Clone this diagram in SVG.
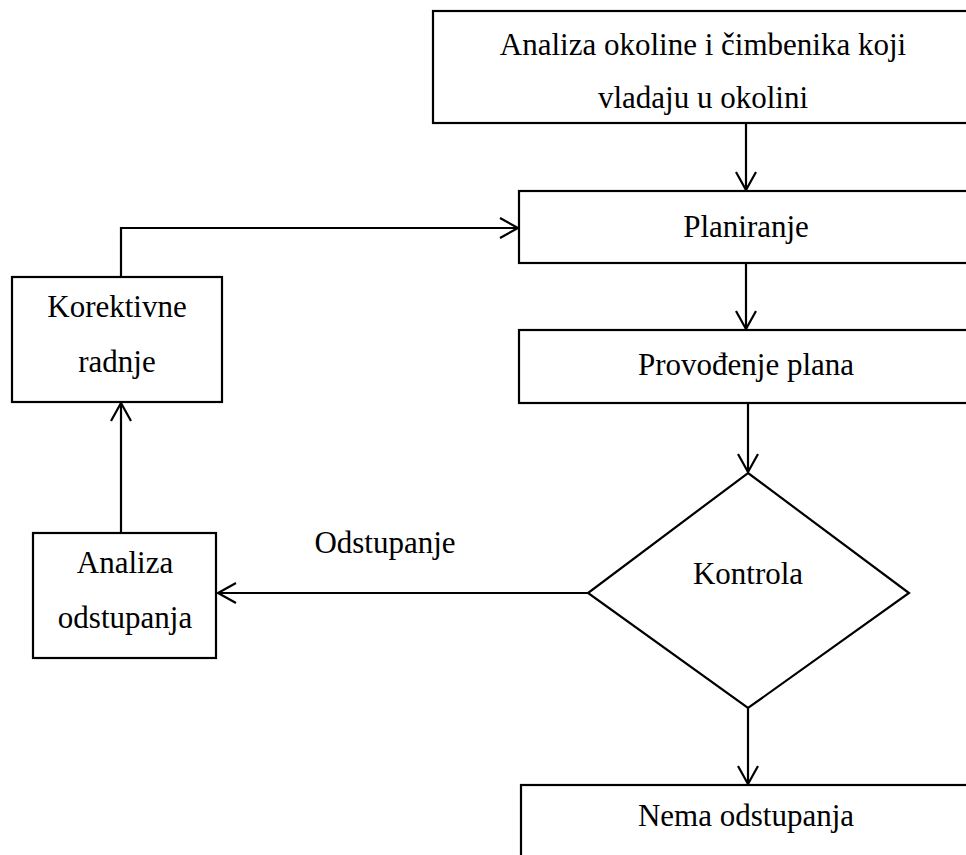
<svg xmlns="http://www.w3.org/2000/svg" width="966" height="855" viewBox="0 0 966 855">
<style>
.box{fill:#fff;stroke:#000;stroke-width:2.2}
.t{font-family:"Liberation Serif","Times New Roman",serif;font-size:31px;fill:#000;text-anchor:middle}
.c{fill:none;stroke:#000;stroke-width:2.2}
</style>
<defs>
<marker id="arr" markerUnits="userSpaceOnUse" markerWidth="26" markerHeight="26" viewBox="-22 -13 26 26" refX="0" refY="0" orient="auto">
<path d="M-18,-10 L0,0 L-18,10" fill="none" stroke="#000" stroke-width="2.2"/>
</marker>
</defs>
<rect width="966" height="855" fill="#fff"/>
<g id="connectors">
<line class="c" x1="746" y1="124" x2="746" y2="190" marker-end="url(#arr)"/>
<line class="c" x1="746" y1="263" x2="746" y2="329" marker-end="url(#arr)"/>
<line class="c" x1="748" y1="403" x2="748" y2="472" marker-end="url(#arr)"/>
<line class="c" x1="748" y1="708" x2="748" y2="784" marker-end="url(#arr)"/>
<line class="c" x1="588" y1="593" x2="218" y2="593" marker-end="url(#arr)"/>
<line class="c" x1="121" y1="533" x2="121" y2="403" marker-end="url(#arr)"/>
<polyline class="c" points="121,277 121,228 518,228" marker-end="url(#arr)"/>
<text class="t" x="385" y="553">Odstupanje</text>
</g>
<g id="analiza-okoline">
<rect class="box" x="433" y="11" width="545" height="112"/>
<text class="t" x="703" y="55">Analiza okoline i čimbenika koji</text>
<text class="t" x="703" y="108">vladaju u okolini</text>
</g>
<g id="planiranje">
<rect class="box" x="519" y="191" width="459" height="72"/>
<text class="t" x="746" y="237">Planiranje</text>
</g>
<g id="provodenje">
<rect class="box" x="519" y="330" width="459" height="73"/>
<text class="t" x="746" y="375">Provođenje plana</text>
</g>
<g id="kontrola">
<polygon class="box" points="748,473 909,593 748,708 588,593"/>
<text class="t" x="748" y="584">Kontrola</text>
</g>
<g id="nema-odstupanja">
<rect class="box" x="521" y="785" width="457" height="90"/>
<text class="t" x="746" y="826">Nema odstupanja</text>
</g>
<g id="analiza-odstupanja">
<rect class="box" x="33" y="533" width="183" height="125"/>
<text class="t" x="125" y="573">Analiza</text>
<text class="t" x="125" y="628">odstupanja</text>
</g>
<g id="korektivne">
<rect class="box" x="12" y="277" width="210" height="125"/>
<text class="t" x="117" y="317">Korektivne</text>
<text class="t" x="117" y="372">radnje</text>
</g>
</svg>
